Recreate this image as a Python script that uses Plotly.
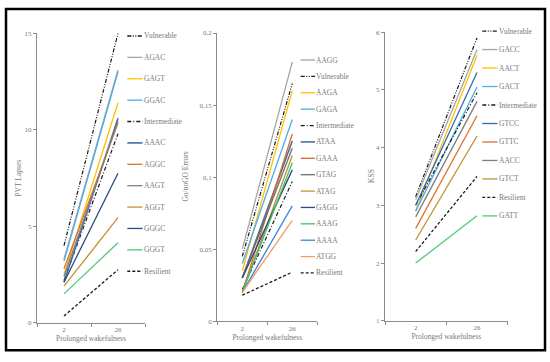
import plotly.graph_objects as go

# ---------------- data ----------------
x_categories = ["2", "26"]
x_title = "Prolonged wakefulness"

# Panel 1: PVT Lapses
pvt_names = ["Vulnerable", "AGAC", "GAGT", "GGAC", "Intermediate", "AAAC", "AGGC",
             "AAGT", "AGGT", "GGGC", "GGGT", "Resilient"]
pvt_start = [4.0, 3.3, 2.5, 3.2, 2.2, 2.1, 2.8, 2.4, 1.9, 2.1, 1.5, 0.35]
pvt_end = [15.0, 13.1, 11.4, 13.0, 9.8, 10.6, 10.35, 10.45, 5.45, 7.75, 4.15, 2.75]
pvt_ticks = [0, 5, 10, 15]
pvt_ticktext = ["0", "5", "10", "15"]

# Panel 2: Go/noGO Errors
gng_names = ["AAGG", "Vulnerable", "AAGA", "GAGA", "Intermediate", "ATAA", "GAAA",
             "GTAG", "ATAG", "GAGG", "AAAG", "AAAA", "ATGG", "Resilient"]
gng_start = [0.05, 0.045, 0.035, 0.04, 0.022, 0.03, 0.02, 0.03, 0.02, 0.03, 0.02, 0.02, 0.02, 0.018]
gng_end = [0.18, 0.165, 0.16, 0.14, 0.097, 0.125, 0.13, 0.12, 0.115, 0.105, 0.11, 0.08, 0.07, 0.034]
gng_ticks = [0, 0.05, 0.1, 0.15, 0.2]
gng_ticktext = ["0", "0,05", "0,1", "0,15", "0,2"]

# Panel 3: KSS
kss_names = ["Vulnerable", "GACC", "AACT", "GACT", "Intermediate", "GTCC", "GTTC",
             "AACC", "GTCT", "Resilient", "GATT"]
kss_start = [3.15, 3.1, 2.9, 2.9, 3.0, 3.0, 2.6, 2.8, 2.4, 2.2, 2.0]
kss_end = [5.9, 5.7, 5.6, 5.05, 4.95, 5.3, 4.55, 4.8, 4.2, 3.5, 2.82]
kss_ticks = [1, 2, 3, 4, 5, 6]
kss_ticktext = ["1", "2", "3", "4", "5", "6"]

# ---------------- styles ----------------
VULN_DASH = "4px,1.5px,1px,1.5px,1px,1.5px"
INTER_DASH = "4px,2px,1px,2px"
RES_DASH = "3px,2px"

style = {
    "Vulnerable": ("#1a1a1a", VULN_DASH, 1.2),
    "Intermediate": ("#1a1a1a", INTER_DASH, 1.2),
    "Resilient": ("#1a1a1a", RES_DASH, 1.3),
    # panel 1
    "AGAC": ("#A5A5A5", "solid", 1.3),
    "GAGT": ("#FFC000", "solid", 1.3),
    "GGAC": ("#4BAEE8", "solid", 1.3),
    "AAAC": ("#3F6EA5", "solid", 1.6),
    "AGGC": ("#E0702C", "solid", 1.3),
    "AAGT": ("#7F7F7F", "solid", 1.3),
    "AGGT": ("#C0922E", "solid", 1.3),
    "GGGC": ("#2A4B80", "solid", 1.3),
    "GGGT": ("#4CCB7A", "solid", 1.3),
    # panel 2
    "AAGG": ("#A5A5A5", "solid", 1.3),
    "AAGA": ("#FFC000", "solid", 1.3),
    "GAGA": ("#4BAEE8", "solid", 1.3),
    "ATAA": ("#4E6E9C", "solid", 1.6),
    "GAAA": ("#D9652A", "solid", 1.3),
    "GTAG": ("#6F6F6F", "solid", 1.3),
    "ATAG": ("#C0922E", "solid", 1.3),
    "GAGG": ("#2A4B80", "solid", 1.3),
    "AAAG": ("#3DBE6A", "solid", 1.3),
    "AAAA": ("#3A86D6", "solid", 1.3),
    "ATGG": ("#F59A5A", "solid", 1.3),
    # panel 3
    "GACC": ("#A5A5A5", "solid", 1.3),
    "AACT": ("#FFC000", "solid", 1.3),
    "GACT": ("#4BAEE8", "solid", 1.3),
    "GTCC": ("#2E6DB4", "solid", 1.3),
    "GTTC": ("#E0702C", "solid", 1.3),
    "AACC": ("#7F7F7F", "solid", 1.3),
    "GTCT": ("#C0922E", "solid", 1.3),
    "GATT": ("#4CCB7A", "solid", 1.3),
}

W, H = 550, 362
FONT = "Liberation Serif"
TXT = "#7a7a7a"
AXC = "#8C8C8C"

fig = go.Figure()

panels = [
    dict(names=pvt_names, start=pvt_start, end=pvt_end, xa="x", ya="y",
         title="PVT Lapses", ticks=pvt_ticks, ticktext=pvt_ticktext, rng=[0, 15],
         xdom=[37, 145], ydom=[30, 326], title_x=18.5,
         leg_y0=32.7, leg_dy=21.87, leg_x0=127.3, leg_x1=142.5, leg_tx=142.5),
    dict(names=gng_names, start=gng_start, end=gng_end, xa="x2", ya="y2",
         title="Go/noGO Errors", ticks=gng_ticks, ticktext=gng_ticktext, rng=[0, 0.2],
         xdom=[217.3, 317.3], ydom=[29.7, 324.3], title_x=185.5,
         leg_y0=57.3, leg_dy=16.75, leg_x0=300.7, leg_x1=315, leg_tx=315),
    dict(names=kss_names, start=kss_start, end=kss_end, xa="x3", ya="y3",
         title="KSS", ticks=kss_ticks, ticktext=kss_ticktext, rng=[1, 6],
         xdom=[385, 507.7], ydom=[28.7, 324], title_x=371.5,
         leg_y0=27.7, leg_dy=18.9, leg_x0=482.3, leg_x1=497.5, leg_tx=497.5),
]

shapes = []
annotations = []

for i, p in enumerate(panels):
    for name, s, e in zip(p["names"], p["start"], p["end"]):
        c, d, w = style[name]
        fig.add_trace(go.Scatter(
            x=x_categories, y=[s, e], mode="lines", name=name,
            line=dict(color=c, dash=d, width=w),
            xaxis=p["xa"], yaxis=p["ya"], showlegend=False,
            hovertemplate=name + ": %{y}<extra></extra>"))
    sfx = "" if i == 0 else str(i + 1)
    fig.layout["xaxis" + sfx] = dict(
        domain=[p["xdom"][0] / W, p["xdom"][1] / W],
        anchor=p["ya"], type="category", range=[-0.5, 1.5],
        tickson="boundaries", ticks="outside", ticklen=3, tickcolor=AXC,
        showline=True, linecolor=AXC, linewidth=1.3, showgrid=False, zeroline=False,
        tickfont=dict(family=FONT, size=7, color=TXT),
        title=dict(text=x_title, font=dict(family=FONT, size=7.5, color=TXT), standoff=2),
    )
    fig.layout["yaxis" + sfx] = dict(
        domain=[1 - p["ydom"][1] / H, 1 - p["ydom"][0] / H],
        anchor=p["xa"], range=p["rng"], tickvals=p["ticks"], ticktext=p["ticktext"],
        ticks="outside", ticklen=3, tickcolor=AXC,
        showline=True, linecolor=AXC, linewidth=1.3, showgrid=False, zeroline=False,
        tickfont=dict(family=FONT, size=7, color=TXT),
    )
    # y-axis title
    annotations.append(dict(text=p["title"], xref="paper", yref="paper",
                            x=p["title_x"] / W,
                            y=1 - (p["ydom"][0] + p["ydom"][1]) / 2 / H,
                            textangle=-90, xanchor="center", yanchor="middle",
                            showarrow=False,
                            font=dict(family=FONT, size=7.5, color=TXT)))
    # manual legend
    for k, name in enumerate(p["names"]):
        c, d, w = style[name]
        yp = 1 - (p["leg_y0"] + k * p["leg_dy"]) / H
        shapes.append(dict(type="line", xref="paper", yref="paper",
                           x0=p["leg_x0"] / W, x1=p["leg_x1"] / W, y0=yp, y1=yp,
                           line=dict(color=c, dash=d, width=max(w, 1.3))))
        annotations.append(dict(text=name, xref="paper", yref="paper",
                                x=p["leg_tx"] / W, y=yp, xanchor="left", yanchor="middle",
                                showarrow=False, xshift=-1,
                                font=dict(family=FONT, size=7.5, color=TXT)))

# outer frame
shapes.append(dict(type="rect", xref="paper", yref="paper", layer="above",
                   x0=6 / W, x1=545 / W, y0=1 - 354 / H, y1=1 - 5 / H,
                   line=dict(color="#000000", width=2.5)))

fig.update_layout(
    width=W, height=H, autosize=False,
    margin=dict(l=0, r=0, t=0, b=0),
    paper_bgcolor="white", plot_bgcolor="white",
    showlegend=False, shapes=shapes, annotations=annotations,
    font=dict(family=FONT, color=TXT),
)

fig.write_html("out.html", config={"displayModeBar": False},
               post_script="document.body.style.margin='0';document.body.style.overflow='hidden';")
